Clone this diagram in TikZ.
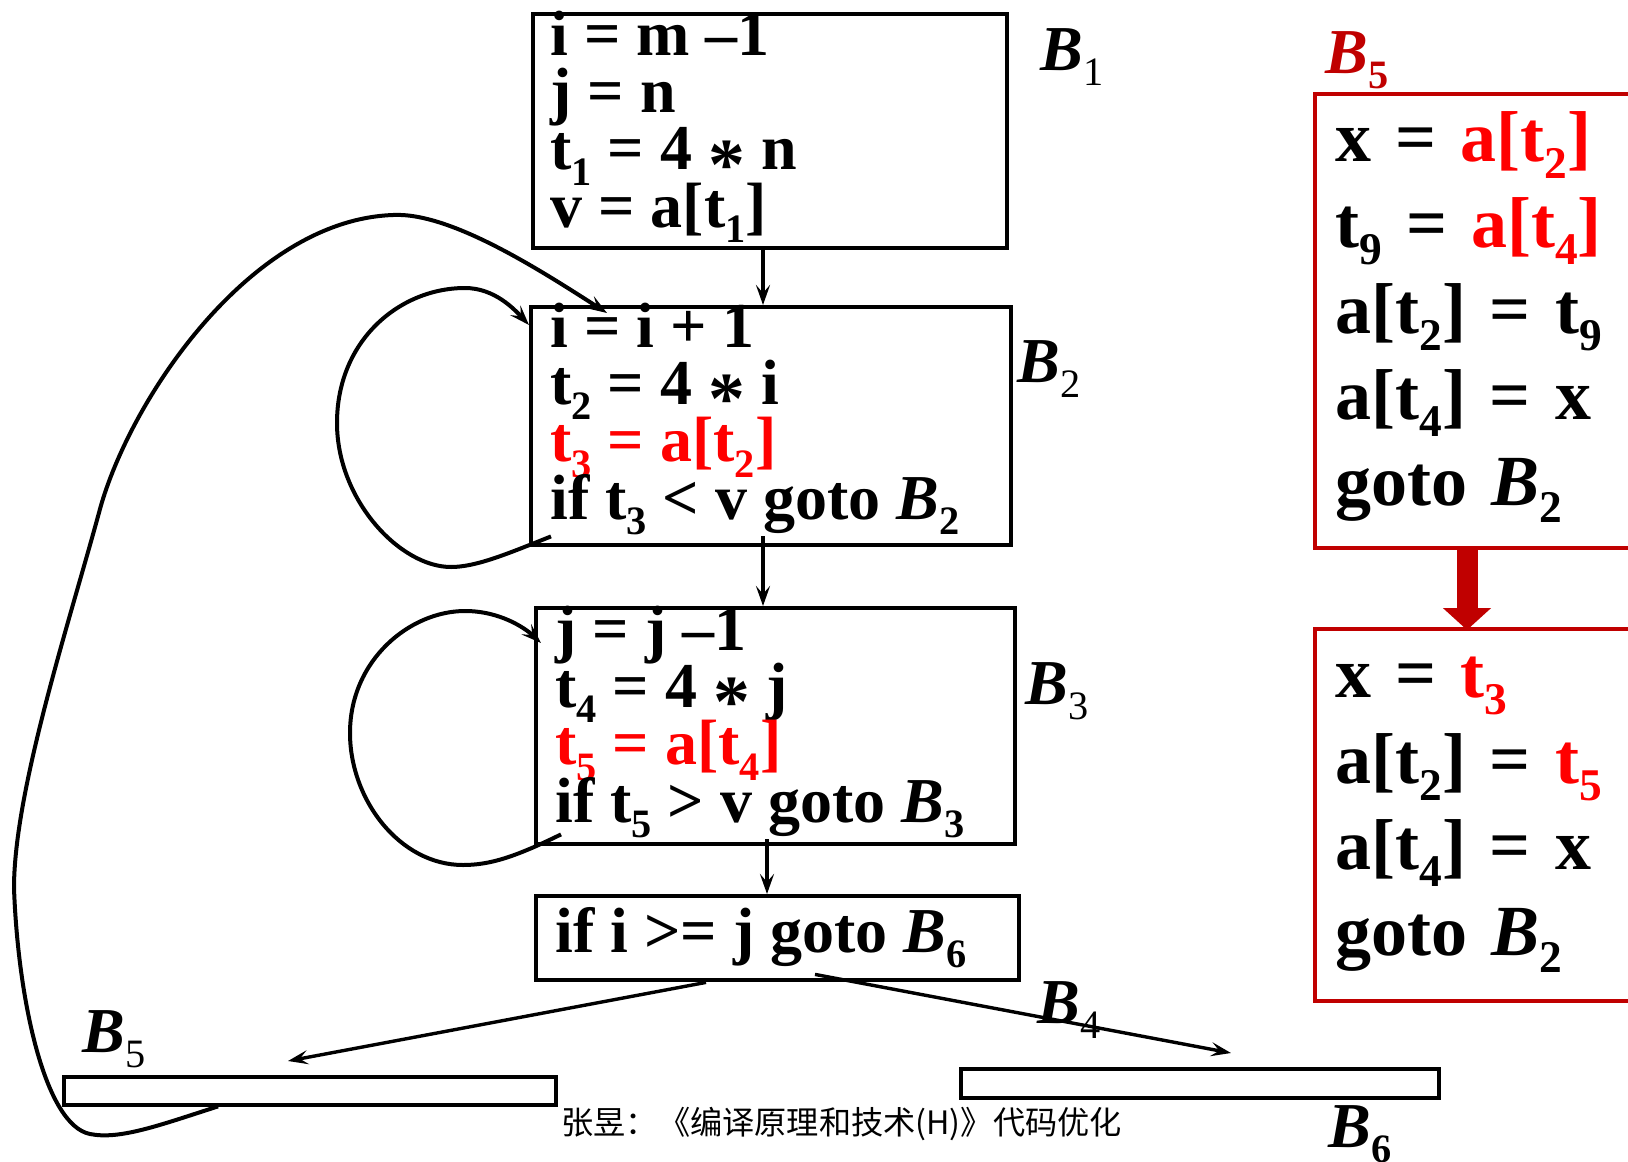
\documentclass[tikz,border=0pt]{standalone}
\usepackage{fontspec}
\usepackage{graphicx}
\setmainfont{Liberation Serif}
\newfontfamily\cjkfont{Noto Sans CJK SC}
\usepackage{tikz}
\usetikzlibrary{arrows.meta,calc}
\definecolor{darkred}{HTML}{C00000}
\newcommand{\sbs}[1]{\raisebox{-.24em}{\scalebox{.63}{#1}}}
\newcommand{\mulsym}{\raisebox{-.3em}{\scalebox{1.15}{*}}}
\newcommand{\blkB}[1]{\textit{B}\sbs{#1}}
\newcommand{\csp}{\spaceskip=.25em\relax}
\newcommand{\codefont}{\bfseries\fontsize{32}{28.7}\selectfont\lineskiplimit-100pt\relax}
\newcommand{\redfont}{\bfseries\fontsize{36}{43}\selectfont\lineskiplimit-100pt\relax}

\begin{document}
\begin{tikzpicture}[x=0.5pt, y=-0.5pt,
    >={Stealth[length=10pt,width=7pt,inset=4pt]},
    font=\codefont,
    box/.style={draw, line width=2.2pt, inner sep=0pt, anchor=north west},
    redbox/.style={box, draw=darkred},
    code/.style={anchor=base west, inner sep=0pt, align=left, text width=235pt},
    redcode/.style={code, text width=180pt, font=\redfont},
    lbl/.style={anchor=base west, inner sep=0pt},
    edge/.style={line width=1.7pt},
    loop/.style={line width=2pt}]
    \useasboundingbox (0,0) rectangle (1628,1162);

    \node[box, minimum width=237pt, minimum height=117pt] (b1) at (531,12) {};
    \node[box, minimum width=240pt, minimum height=119pt] (b2) at (529,305) {};
    \node[box, minimum width=239.5pt, minimum height=118pt] (b3) at (534,606) {};
    \node[box, minimum width=241.5pt, minimum height=42pt] (b4) at (534,894) {};
    \node[box, minimum width=246pt, minimum height=14pt] (b5) at (62,1075) {};
    \node[box, minimum width=239pt, minimum height=14.5pt] (b6) at (959,1067) {};
    \node[redbox, minimum width=200pt, minimum height=227pt] (r1) at (1313,92) {};
    \node[redbox, minimum width=200pt, minimum height=186pt] (r2) at (1313,627) {};

    \node[code] (c1) at (550,55) {\csp i = m –1\\ j = n\\ t\sbs{1} = 4 \mulsym{} n\\ v = a[t\sbs{1}]};
    \node[code] (c2) at (550,347) {\csp i = i + 1\\ t\sbs{2} = 4 \mulsym{} i\\
      \textcolor{red}{t\sbs{3} = a[t\sbs{2}]}\\ if t\sbs{3} < v goto \blkB{2}};
    \node[code] (c3) at (555,650) {\csp j = j –1\\ t\sbs{4} = 4 \mulsym{} j\\
      \textcolor{red}{t\sbs{5} = a[t\sbs{4}]}\\ if t\sbs{5} > v goto \blkB{3}};
    \node[code] (c4) at (555,952) {\csp if i >= j goto \blkB{6}};
    \node[redcode] (rc1) at (1335,161) {x = \textcolor{red}{a[t\sbs{2}]}\\
      t\sbs{9} = \textcolor{red}{a[t\sbs{4}]}\\ a[t\sbs{2}] = t\sbs{9}\\ a[t\sbs{4}] = x\\ goto \blkB{2}};
    \node[redcode] (rc2) at (1335,697) {x = \textcolor{red}{t\sbs{3}}\\
      a[t\sbs{2}] = \textcolor{red}{t\sbs{5}}\\ a[t\sbs{4}] = x\\ goto \blkB{2}};

    \node[lbl] (lb1) at (1040,70) {\blkB{\mdseries 1}};
    \node[lbl] (lb2) at (1017,382) {\blkB{\mdseries 2}};
    \node[lbl] (lb3) at (1025,704) {\blkB{\mdseries 3}};
    \node[lbl] (lb4) at (1037,1023) {\blkB{\mdseries 4}};
    \node[lbl] (lb5) at (82,1052) {\blkB{\mdseries 5}};
    \node[lbl] (lb6) at (1328,1147) {\blkB{6}};
    \node[lbl, text=darkred] (rlb) at (1325,73) {\blkB{5}};
    \node[lbl, font=\cjkfont\fontsize{16.1}{16.1}\selectfont] (foot) at (561,1134)
      {张昱：《编译原理和技术(H)》代码优化};

    \coordinate (vx) at (763,0);
    \coordinate (vy) at (767,0);
    \draw[edge,->] (vx |- b1.south) -- (vx |- b2.north);
    \draw[edge,->] ($(vx |- b2.south)+(0,-11)$) -- (vx |- b3.north);
    \draw[edge,->] ($(vy |- b3.south)+(0,-7)$) -- (vy |- b4.north);
    \draw[edge,->] ($(b4.south west)+(172,0)$) -- ($(b5.north west)+(226,-14)$);
    \draw[edge,->] ($(b4.south west)+(281,-8)$) -- ($(b6.north west)+(272,-14)$);

    \draw[loop,->] ($(b2.south west)+(22,-11)$) .. controls (507,554) and (476,567) .. (451,567)
      .. controls (400,567) and (337,500) .. (337,423)
      .. controls (337,340) and (400,288) .. (465,288)
      .. controls (495,288) and (515,310) .. ($(b2.north west)+(0,20)$);
    \draw[loop,->] ($(b3.south west)+(27,-12)$) .. controls (515,857) and (490,865) .. (463,865)
      .. controls (400,865) and (350,800) .. (350,733)
      .. controls (350,660) and (410,611) .. (465,611)
      .. controls (500,611) and (525,628) .. ($(b3.north west)+(7,37)$);
    \draw[loop,->] ($(b5.south west)+(156,-1)$) .. controls (160,1125) and (120,1140) .. (90,1134)
      .. controls (45,1125) and (18,1000) .. (14,888)
      .. controls (14,790) and (70,620) .. (100,509)
      .. controls (130,400) and (250,220) .. (393,215)
      .. controls (450,212) and (540,270) .. ($(b2.north west)+(78,8)$);

    \draw[darkred, line width=10.5pt, -{Triangle[length=11pt,width=23.5pt]}]
      ($(r1.south west)+(154,0)$) -- ($(r2.north west)+(154,3)$);
\end{tikzpicture}
\end{document}
